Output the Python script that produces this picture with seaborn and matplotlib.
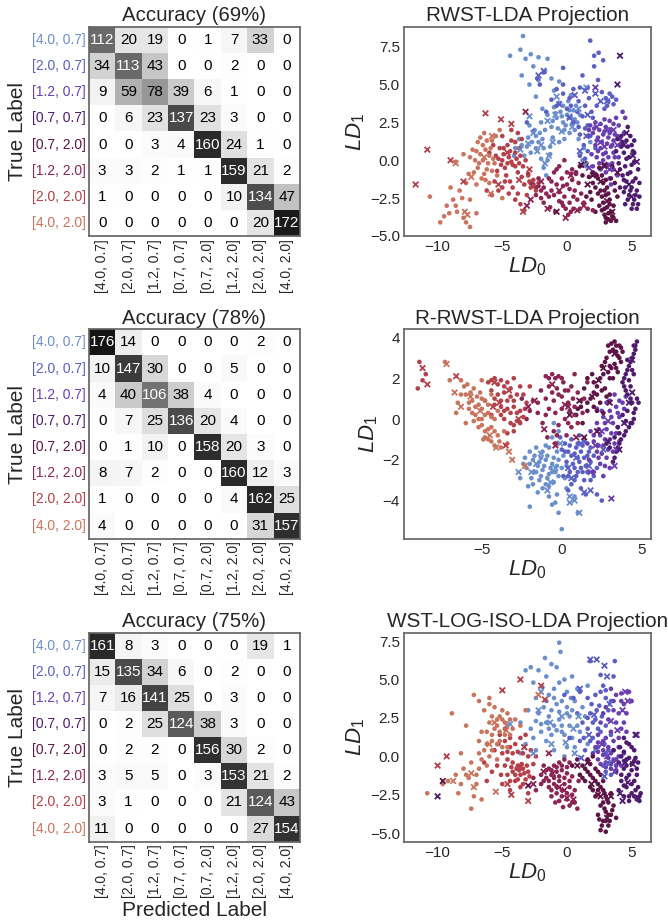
import numpy as np
import pandas as pd
import matplotlib
matplotlib.use("Agg")
import matplotlib.pyplot as plt
import seaborn as sns

# ---------------- data ----------------
labels = ['[4.0, 0.7]', '[2.0, 0.7]', '[1.2, 0.7]', '[0.7, 0.7]',
          '[0.7, 2.0]', '[1.2, 2.0]', '[2.0, 2.0]', '[4.0, 2.0]']
class_colors = ['#6b8fcc', '#5b5fc4', '#6a3eb0', '#4e1b6e',
                '#5e1446', '#8c2454', '#b4404a', '#c9745c']

accuracies = [69, 78, 75]
proj_titles = ['RWST-LDA Projection', 'R-RWST-LDA Projection', 'WST-LOG-ISO-LDA Projection']

cm_rwst = [[112, 20, 19, 0, 1, 7, 33, 0],
           [34, 113, 43, 0, 0, 2, 0, 0],
           [9, 59, 78, 39, 6, 1, 0, 0],
           [0, 6, 23, 137, 23, 3, 0, 0],
           [0, 0, 3, 4, 160, 24, 1, 0],
           [3, 3, 2, 1, 1, 159, 21, 2],
           [1, 0, 0, 0, 0, 10, 134, 47],
           [0, 0, 0, 0, 0, 0, 20, 172]]

cm_rrwst = [[176, 14, 0, 0, 0, 0, 2, 0],
            [10, 147, 30, 0, 0, 5, 0, 0],
            [4, 40, 106, 38, 4, 0, 0, 0],
            [0, 7, 25, 136, 20, 4, 0, 0],
            [0, 1, 10, 0, 158, 20, 3, 0],
            [8, 7, 2, 0, 0, 160, 12, 3],
            [1, 0, 0, 0, 0, 4, 162, 25],
            [4, 0, 0, 0, 0, 0, 31, 157]]

cm_wst = [[161, 8, 3, 0, 0, 0, 19, 1],
          [15, 135, 34, 6, 0, 2, 0, 0],
          [7, 16, 141, 25, 0, 3, 0, 0],
          [0, 2, 25, 124, 38, 3, 0, 0],
          [0, 2, 2, 0, 156, 30, 2, 0],
          [3, 5, 5, 0, 3, 153, 21, 2],
          [3, 1, 0, 0, 0, 21, 124, 43],
          [11, 0, 0, 0, 0, 0, 27, 154]]

# ---- RWST-LDA projection: per class (LD0, LD1) points ----
rwst_dots = [
    [(-3.4, 8.2), (-3.6, 7.3), (-4.4, 6.9), (-3.2, 6.7), (-2.8, 7.0), (-2.2, 6.8), (-1.5, 6.7), (-2.6, 6.2),
     (-3.5, 5.6), (-1.7, 5.9), (-2.2, 5.3), (-1.2, 5.4), (-0.6, 5.2), (-1.0, 3.5), (-0.5, 3.2), (0.0, 3.0),
     (0.3, 2.8), (-0.3, 2.5), (-0.8, 2.8), (0.5, 3.3), (0.8, 2.5), (-1.2, 2.2), (-0.2, 2.0), (0.2, 1.8),
     (-0.6, 3.8), (0.1, 3.9), (-1.5, 3.0), (1.0, 3.0), (0.6, 2.0), (-2.0, 2.5), (-2.5, 2.0), (-3.0, 1.5),
     (-3.5, 1.0), (-4.0, 0.8), (-2.2, 1.2), (-1.8, 0.8), (-1.3, 0.9), (-2.8, 0.5), (-3.3, 0.3), (-1.5, 0.0),
     (-1.8, -0.5), (-1.6, -1.0), (-2.4, 1.6), (1.2, 0.0), (1.5, -0.4), (1.3, 0.8), (1.8, 1.2),
     (-0.9, 3.1), (-0.4, 2.9), (0.2, 3.3), (0.6, 2.7), (-0.1, 2.3), (-0.7, 2.1), (0.4, 2.4), (-1.1, 2.6),
     (-0.3, 3.6), (0.7, 3.6), (-1.7, 2.0), (-2.1, 1.8), (-2.7, 1.2), (-3.1, 0.9), (-2.4, 0.8), (-1.9, 1.4),
     (-1.1, 1.5), (-0.6, 1.2), (-1.3, 0.4), (-2.0, 0.1), (-3.7, 1.4), (-4.1, 0.3), (-2.9, 2.3), (-1.9, 3.4),
     (-2.4, 4.2), (-2.9, 5.0), (-1.0, 4.6), (0.3, 4.3), (-0.2, 1.4), (0.9, 1.4)],
    [(1.8, 7.9), (2.45, 7.1), (2.1, 6.9), (2.8, 6.6), (2.1, 6.2), (0.5, 4.7), (1.0, 4.8), (1.6, 4.8),
     (-0.3, 5.0), (-0.8, 4.7), (-1.8, 5.8), (-2.3, 5.4), (-2.1, 5.0), (3.0, 4.1), (3.2, 3.9), (3.5, 4.2),
     (3.6, 3.7), (3.1, 3.6), (2.7, 4.5), (0.0, 3.4), (0.3, 3.6), (0.8, 3.2), (1.2, 2.9), (1.6, 2.3),
     (1.0, 1.7), (1.3, 1.0), (1.4, 0.1), (1.2, -0.3), (1.6, 0.6), (0.5, 2.5), (-0.8, 3.6), (-1.6, 3.2),
     (-3.1, 2.5), (-2.6, 1.9),
     (0.9, 3.9), (1.4, 3.6), (1.9, 3.2), (0.2, 4.1), (-0.3, 4.4), (1.7, 4.1), (2.3, 3.6), (2.0, 2.8),
     (1.4, 2.1), (0.9, 2.2), (1.8, 1.6), (2.2, 0.8), (1.0, 0.3), (3.3, 4.4), (2.9, 3.4), (3.8, 4.0),
     (-1.2, 4.0), (-0.3, 6.1), (1.2, 5.6), (2.4, 5.3)],
    [(1.8, 2.3), (2.2, 2.5), (2.6, 2.4), (3.0, 2.2), (3.4, 2.0), (2.0, 1.8), (2.4, 1.5), (2.8, 1.7),
     (3.2, 1.5), (3.6, 1.3), (2.2, 1.0), (2.6, 0.8), (3.0, 0.5), (3.4, 0.9), (2.8, 0.0), (3.2, -0.3),
     (3.6, -0.6), (2.5, -0.2), (3.9, -1.0), (3.3, -1.2), (4.0, 0.2), (4.2, 1.0), (4.4, 1.8), (4.0, 2.3),
     (4.5, 2.8), (4.3, 3.2), (3.8, 2.8), (1.6, 1.6), (1.9, 0.4), (2.3, 0.2), (2.0, -0.4), (3.7, 0.2),
     (2.1, 2.1), (2.5, 2.0), (2.9, 1.9), (3.3, 1.8), (3.7, 1.7), (2.3, 1.3), (2.7, 1.2), (3.1, 1.1),
     (3.5, 1.0), (3.9, 1.6), (2.4, 0.6), (2.8, 0.4), (3.2, 0.2), (3.6, 0.5), (2.6, -0.6), (3.0, -0.8),
     (3.5, -0.2), (2.9, 2.7), (3.3, 2.6), (3.6, 2.4), (1.7, 2.0), (4.1, 1.4), (3.4, -1.6), (2.2, -0.9)],
    [(4.2, 1.6), (4.6, 1.3), (5.0, 1.0), (4.4, 0.5), (4.8, 0.2), (5.2, -0.1), (4.5, -0.4), (4.9, -0.8),
     (5.3, -1.2), (4.6, -1.4), (5.0, -1.8), (5.4, -2.0), (4.8, -2.3), (5.2, -2.6), (5.5, -2.9), (5.0, -3.2),
     (4.3, -1.0), (4.0, -0.2), (3.8, 0.6), (4.1, -1.8), (4.4, -2.1), (5.6, -2.4), (4.7, 2.2), (5.2, 0.5),
     (5.5, -0.6), (3.9, 1.4),
     (4.3, 1.2), (4.7, 0.9), (5.1, 0.6), (4.6, 0.1), (5.0, -0.3), (4.7, -0.9), (5.1, -1.4), (4.5, -1.8),
     (4.9, -2.0), (5.3, -2.3), (4.7, -2.6), (5.1, -2.9), (5.4, -3.2), (4.4, -1.3), (4.2, 0.9), (4.9, 1.6),
     (5.2, 1.3), (5.6, -1.5), (4.1, -0.6), (4.5, -2.9)],
    [(2.0, -0.8), (2.4, -1.2), (2.8, -1.5), (3.1, -1.8), (2.6, -2.0), (3.0, -2.3), (3.3, -2.6), (2.8, -2.8),
     (3.1, -3.1), (3.4, -3.4), (2.9, -3.6), (3.2, -3.9), (3.6, -3.8), (3.8, -4.0), (3.4, -1.2), (3.7, -2.0),
     (2.2, -1.8), (1.8, -2.1), (1.5, -2.4), (3.6, -3.0), (2.5, -0.5), (1.5, -0.2), (1.0, -0.4), (1.2, -1.0),
     (0.7, -0.8), (2.7, -3.3), (3.0, -4.1), (3.5, -0.4),
     (2.3, -1.0), (2.7, -1.0), (3.0, -1.3), (2.9, -2.0), (3.2, -2.2), (2.7, -2.4), (3.3, -2.9), (2.9, -3.2),
     (3.2, -3.5), (3.5, -3.7), (3.0, -3.8), (3.4, -4.0), (2.4, -2.2), (2.0, -1.5), (1.7, -1.1), (1.9, -2.6),
     (3.7, -1.5), (3.9, -2.4), (2.5, -3.0), (2.2, -3.4)],
    [(-2.8, -1.5), (-2.4, -1.8), (-2.0, -2.0), (-1.6, -2.2), (-1.2, -2.0), (-0.8, -1.6), (-0.4, -1.2), (0.0, -0.8),
     (0.4, -0.6), (-0.6, -0.4), (-1.0, -0.8), (-0.2, -2.4), (0.2, -2.8), (0.5, -3.2), (-0.3, -3.0), (-0.6, -2.7),
     (0.1, -3.6), (0.6, -2.0), (0.9, -1.5), (1.3, -2.8), (1.0, -3.2), (-1.8, -2.8), (-1.3, -3.1), (-2.2, -1.2),
     (-3.0, -0.9), (-1.4, -1.2), (0.0, -1.6), (0.4, -1.3), (-0.9, -3.4), (1.6, -3.2), (2.0, -3.3), (-0.2, 0.0),
     (-2.6, -1.6), (-2.2, -1.7), (-1.8, -1.8), (-1.4, -2.4), (-1.0, -2.3), (-0.6, -2.1), (-0.3, -1.7), (0.2, -1.9),
     (0.5, -2.4), (0.3, -0.9), (-0.8, -0.6), (-1.2, -1.4), (-0.4, -2.8), (0.8, -2.6), (1.1, -2.2), (-2.0, -2.5),
     (-2.4, -2.3), (0.3, -3.4), (-0.1, -3.2), (0.7, -0.9)],
    [(-5.5, 0.3), (-5.0, 0.0), (-4.5, 0.2), (-4.0, 0.5), (-3.6, 0.3), (-4.8, -0.5), (-4.2, -0.3), (-3.8, -0.8),
     (-5.2, 0.8), (-4.6, 1.0), (-4.0, 1.2), (-3.4, -0.4), (-3.0, -1.0), (-2.6, -1.3), (-2.2, -1.5), (-2.8, -1.8),
     (-3.3, -1.6), (-5.6, -1.4), (-5.0, -1.8), (-4.5, -2.2), (-4.0, -2.6), (-3.6, -2.9), (-3.3, -3.3), (-5.8, -2.3),
     (-6.2, -2.0), (-4.3, 2.0), (-5.0, 1.6), (-3.8, 1.8), (-6.0, 0.5), (-3.5, 1.4), (-4.4, -1.4), (-2.4, -2.0),
     (-5.3, 0.1), (-4.9, 0.4), (-4.3, -0.1), (-3.9, 0.1), (-4.6, -0.2), (-5.1, -0.3), (-4.0, -0.4), (-3.7, -0.2),
     (-4.4, 0.6), (-4.9, 0.8), (-3.7, 0.8), (-4.3, 1.3), (-5.4, -0.7), (-4.7, -1.0), (-3.5, -1.1), (-2.9, -1.4),
     (-4.8, -1.4), (-4.2, -1.8), (-3.8, -2.2), (-5.3, -2.0), (-3.1, -2.3), (-2.6, -1.7), (-3.2, 0.0), (-5.7, 1.0)],
    [(-7.0, 0.6), (-6.5, 1.0), (-6.0, 0.3), (-6.8, -0.2), (-6.2, -0.6), (-5.6, -0.2), (-7.2, -0.8), (-6.6, -1.2),
     (-6.0, -1.5), (-5.4, -1.0), (-7.5, 0.2), (-8.0, 0.4), (-6.4, 1.8), (-5.8, 1.3), (-5.2, 2.0), (-6.9, 1.2),
     (-7.8, -1.5), (-8.3, -2.0), (-8.8, -2.6), (-9.3, -3.0), (-9.8, -4.1), (-9.5, -3.7), (-8.5, -3.4), (-8.0, -3.8),
     (-7.5, -4.4), (-7.0, -3.5), (-7.5, -2.6), (-9.0, -1.8), (-10.6, -2.4), (-8.6, -0.1), (-5.0, -2.5),
     (-6.7, 0.4), (-6.3, 0.7), (-5.9, 0.8), (-6.5, 0.0), (-6.1, -0.2), (-5.7, 0.1), (-7.1, 0.0), (-6.9, -0.5),
     (-6.4, -0.9), (-5.8, -0.7), (-7.3, 0.7), (-6.2, 1.3), (-6.7, 1.5), (-5.5, 1.6), (-7.6, -0.9), (-6.3, -1.3),
     (-7.0, -1.6), (-8.6, -3.0), (-8.1, -2.5), (-9.1, -3.5), (-7.8, -4.1)],
]
rwst_cross = [
    [(-3.6, 0.7), (-2.0, 1.0), (-1.5, 2.6), (1.4, -0.3), (-2.6, 1.8), (1.5, 4.8), (-0.9, 3.0), (0.4, 2.2),
     (-2.3, 0.6), (-1.1, 1.2), (-0.4, 1.9), (0.2, 2.9), (-3.0, 1.1), (-1.7, -0.2), (-2.9, 2.9), (-0.8, 4.2),
     (0.9, 3.4), (-1.4, 0.3)],
    [(-1.8, 5.9), (0.6, 4.3), (1.4, 4.6), (3.1, 3.9), (-0.6, 3.7), (2.2, 4.4), (1.0, 0.6),
     (0.2, 2.8), (1.6, 3.0), (2.6, 3.9), (1.5, 1.6), (-2.2, 5.6)],
    [(2.6, 1.2), (3.1, 2.0), (1.7, -0.5), (2.2, 4.8), (3.9, 1.0), (2.3, 2.2), (3.6, 2.0), (2.9, 0.9),
     (3.3, -0.6)],
    [(5.1, 0.3), (5.4, -0.1), (4.6, 1.8), (4.1, 6.9), (3.9, 5.0), (2.9, -0.4), (4.8, -1.6), (5.0, -2.4),
     (4.4, 1.0)],
    [(2.9, -0.3), (1.1, -0.3), (2.0, -1.0), (3.9, -0.8), (3.5, -3.4), (-0.8, -3.4), (2.6, -1.4), (3.1, -2.7),
     (1.6, -1.6)],
    [(-1.5, -3.2), (-0.1, -3.8), (0.8, -3.3), (-3.2, 3.2), (-2.8, -2.6), (-3.1, -3.0), (-2.0, -1.4),
     (-0.6, -2.0), (0.3, -1.0), (1.3, -3.0)],
    [(-6.3, 3.1), (-5.1, 2.7), (-4.3, 2.4), (-3.4, -3.4), (-8.0, -1.4), (-10.8, 0.7), (-11.7, -1.6), (-9.0, 0.0),
     (-4.6, 0.5), (-3.7, -1.3), (-5.3, -1.6), (-2.9, -0.6)],
    [(-7.9, -3.4), (-7.7, -3.6), (-5.9, -2.2), (-8.6, -0.2), (-6.4, 0.2), (-7.4, -1.1), (-5.8, 1.6)],
]

# ---- R-RWST-LDA projection ----
rrwst_dots = [
    [(-2.0, -1.6), (-1.6, -1.4), (-1.2, -1.6), (-0.8, -1.4), (-0.4, -1.2), (-0.2, -0.6), (-0.5, -0.2), (-1.8, -2.0),
     (-1.4, -2.1), (-1.0, -2.0), (-0.6, -2.2), (-0.2, -2.0), (0.1, -1.8), (-2.2, -2.4), (-1.6, -2.6), (-1.2, -2.5),
     (-0.8, -2.7), (-0.4, -2.6), (0.0, -2.4), (-1.9, -2.9), (-1.4, -3.0), (-1.0, -3.2), (-0.5, -3.1), (0.2, -2.9),
     (-2.4, -2.2), (-2.1, -3.3), (-1.5, -3.6), (-0.3, -3.7), (0.3, -3.4), (-0.8, -3.8), (-2.0, -4.3), (-0.6, -4.2),
     (-0.2, -4.6), (0.0, -5.4), (0.8, -3.8), (1.0, -4.6), (-0.4, -4.1), (-2.6, -2.9),
     (-1.7, -1.8), (-1.3, -1.9), (-0.9, -1.8), (-0.5, -1.9), (-1.5, -2.3), (-1.1, -2.3), (-0.7, -2.4), (-0.3, -2.3),
     (-1.7, -2.6), (-1.3, -2.8), (-0.9, -2.9), (-0.6, -2.6), (-0.2, -2.8), (-1.2, -3.4), (-0.8, -3.3), (-2.0, -2.2),
     (-1.0, -1.3), (-0.6, -0.9), (-0.3, -1.6), (-2.3, -1.9), (-1.8, -3.2), (0.3, -2.3)],
    [(0.2, -1.2), (0.6, -1.0), (1.0, -1.2), (1.4, -1.1), (1.8, -1.4), (0.4, -1.6), (0.8, -1.7), (1.2, -1.6),
     (1.6, -1.8), (2.0, -1.8), (0.3, -2.1), (0.7, -2.2), (1.1, -2.1), (1.5, -2.3), (0.5, -2.6), (0.9, -2.8),
     (1.3, -2.6), (0.1, -2.8), (0.6, -3.2), (1.2, -3.4), (1.8, -3.0), (2.2, -2.4), (-0.1, -0.9), (0.0, -1.5),
     (2.5, -4.0), (2.2, -3.7), (1.5, -3.7), (0.4, -3.5),
     (0.5, -1.3), (0.9, -1.4), (1.3, -1.3), (1.7, -1.6), (0.6, -1.8), (1.0, -1.9), (1.4, -1.9), (1.8, -2.1),
     (0.8, -2.4), (1.2, -2.4), (1.6, -2.6), (0.4, -2.8), (1.0, -2.6), (0.8, -3.0), (1.4, -3.0), (2.0, -2.8),
     (0.2, -1.6), (1.1, -0.8)],
    [(1.8, -0.6), (2.2, -0.2), (2.6, 0.1), (3.0, 0.4), (3.4, 0.6), (2.0, -1.1), (2.4, -0.8), (2.8, -0.5),
     (3.2, -0.2), (3.6, 0.1), (2.2, -1.6), (2.6, -1.3), (3.0, -1.0), (3.4, -0.7), (2.4, -2.2), (2.8, -1.9),
     (3.2, -1.6), (2.0, -2.6), (2.6, -2.8), (3.0, -2.4), (1.7, -2.0), (3.8, 0.8), (4.0, 1.1), (3.3, 1.2),
     (2.8, 0.8), (1.6, -1.2), (3.6, -1.1), (2.2, 0.5),
     (2.0, -0.8), (2.3, -0.5), (2.7, -0.2), (3.1, 0.1), (3.5, 0.3), (2.3, -1.3), (2.7, -1.0), (3.1, -0.7),
     (3.5, -0.4), (2.5, -1.7), (2.9, -1.5), (3.3, -1.2), (2.7, -2.3), (2.3, -1.9), (3.0, 0.9), (3.6, 0.9),
     (3.9, 0.5), (2.5, 0.4)],
    [(3.2, -2.1), (3.4, -1.6), (3.6, -1.2), (3.9, -0.8), (4.2, -0.4), (4.5, 0.0), (4.6, 0.5), (4.3, 1.0),
     (4.0, 1.4), (3.8, 1.8), (4.0, 2.2), (4.2, 2.6), (4.4, 3.0), (4.6, 3.4), (4.7, 3.8), (4.5, 3.6),
     (3.9, 2.0), (4.3, 1.6), (3.0, -1.4), (3.5, -0.4), (3.8, 0.2), (4.1, 0.4), (2.8, -1.2), (4.8, 0.8),
     (4.4, -0.2), (3.3, -0.9), (4.1, 2.9), (4.5, 2.2),
     (3.3, -1.9), (3.5, -1.4), (3.7, -1.0), (4.0, -0.6), (4.3, -0.2), (4.5, 0.3), (4.4, 0.8), (4.1, 1.2),
     (3.9, 1.6), (4.1, 2.4), (4.3, 2.8), (4.5, 3.2), (4.6, 3.6), (4.2, 1.9), (4.0, -0.1), (3.6, -0.7),
     (4.7, 1.0), (4.4, 2.4)],
    [(3.3, 3.8), (3.6, 3.6), (3.8, 3.3), (3.5, 3.1), (3.2, 3.4), (2.9, 3.6), (2.8, 3.0), (3.3, 2.7),
     (3.7, 2.8), (2.5, 2.6), (2.9, 2.3), (3.2, 2.0), (2.4, 2.0), (2.0, 1.8), (2.7, 1.5), (3.0, 1.2),
     (2.2, 1.2), (1.8, 1.0), (1.4, 1.5), (1.2, 0.6), (1.6, 0.4), (2.0, 0.6), (2.4, 0.8), (0.9, 0.2),
     (1.3, -0.2), (2.6, 0.3), (3.1, 2.5), (3.5, 2.3), (1.9, 2.2), (1.6, 2.0),
     (3.4, 3.6), (3.7, 3.5), (3.0, 3.3), (3.4, 3.3), (2.7, 2.8), (3.0, 2.6), (3.4, 2.5), (2.6, 2.2),
     (3.0, 2.0), (2.2, 1.6), (2.5, 1.4), (2.8, 1.1), (2.0, 1.3), (1.6, 0.8), (2.2, 0.4), (1.0, 0.5),
     (3.6, 3.0), (3.1, 3.7)],
    [(-1.0, 2.1), (-0.6, 2.2), (-0.2, 2.1), (0.1, 1.8), (-0.3, 1.5), (-0.8, 1.6), (-1.3, 1.4), (-1.0, 1.0),
     (-0.5, 0.9), (0.0, 1.1), (0.4, 1.4), (0.7, 1.0), (1.0, 1.3), (0.5, 0.4), (0.2, 0.0), (-0.2, -0.3),
     (-0.5, -0.6), (0.6, -0.4), (1.0, -0.2), (1.3, 0.3), (-1.8, 0.9), (-2.0, 0.4), (-1.5, 0.3), (-1.2, -0.2),
     (-0.9, -0.9), (-0.4, -1.2), (0.3, -0.8), (1.6, 1.8), (0.8, 2.2), (1.2, 0.9), (-2.5, 1.0), (-2.2, 0.0),
     (-0.8, 2.0), (-0.4, 2.0), (0.0, 2.0), (-0.6, 1.3), (-0.2, 1.2), (0.2, 1.4), (0.6, 1.6), (0.4, 0.8),
     (0.8, 0.6), (0.0, 0.5), (-0.4, 0.3), (-0.8, 0.5), (-1.5, 0.8), (-1.0, 0.2), (0.4, -0.2), (0.8, 0.2),
     (1.4, 1.0), (-0.3, -0.8)],
    [(-4.6, 1.8), (-4.2, 2.0), (-3.8, 1.9), (-3.4, 1.8), (-3.0, 2.0), (-4.4, 1.4), (-4.0, 1.2), (-3.6, 1.3),
     (-3.2, 1.1), (-2.8, 1.2), (-4.2, 0.7), (-3.8, 0.6), (-3.4, 0.5), (-3.0, 0.6), (-2.6, 0.4), (-3.6, 0.0),
     (-3.2, -0.2), (-2.8, -0.1), (-2.4, 0.1), (-3.0, -0.6), (-3.4, -0.7), (-4.4, 0.2), (-2.6, 1.6), (-2.2, 0.8),
     (-2.0, 1.6), (-8.9, 2.8), (-8.7, 1.9), (-9.0, 1.5), (-8.5, 2.2), (-4.8, 0.9),
     (-4.4, 1.9), (-4.0, 1.7), (-3.6, 1.6), (-3.2, 1.5), (-4.2, 1.0), (-3.8, 0.9), (-3.4, 0.9), (-3.0, 0.9),
     (-2.8, 0.3), (-3.2, 0.3), (-3.6, 0.4), (-3.0, -0.3), (-2.6, -0.2), (-3.8, 0.2), (-2.4, 1.2), (-2.3, 0.5)],
    [(-6.3, 1.9), (-5.9, 1.7), (-5.5, 1.5), (-5.1, 1.3), (-6.0, 1.2), (-5.6, 0.9), (-5.2, 0.7), (-4.8, 0.9),
     (-5.8, 0.5), (-5.4, 0.2), (-5.0, 0.0), (-4.6, 0.3), (-4.2, 0.0), (-5.2, -0.4), (-4.8, -0.6), (-4.4, -0.4),
     (-4.0, -0.8), (-3.6, -0.6), (-4.6, -1.0), (-4.2, -1.3), (-3.8, -1.4), (-3.4, -1.2), (-6.5, 0.8), (-6.0, -0.2),
     (-4.0, 0.4), (-5.0, 1.9), (-4.4, 1.2), (-7.3, 2.8), (-7.0, 1.9), (-6.6, 0.3), (-4.9, -1.0),
     (-6.1, 1.6), (-5.7, 1.3), (-5.3, 1.1), (-5.8, 0.8), (-5.4, 0.6), (-5.0, 0.5), (-5.6, 0.3), (-5.2, 0.0),
     (-4.8, 0.2), (-4.4, 0.1), (-5.0, -0.3), (-4.6, -0.5), (-4.2, -0.6), (-4.8, -0.9), (-4.4, -1.1), (-3.9, -1.1),
     (-5.5, -0.1), (-6.3, 1.2), (-5.0, 1.0), (-4.6, 0.7)],
]
rrwst_cross = [
    [(-2.7, -2.6), (0.5, -4.1), (0.8, -4.0), (1.1, -4.6), (-1.6, -2.2), (-0.7, -3.1), (0.5, -3.8),
     (-1.3, -1.7), (-0.4, -2.4), (-1.9, -2.6), (-0.9, -3.5), (-0.1, -1.2)],
    [(0.4, -2.4), (1.4, -3.6), (1.8, -3.5), (0.9, -1.9), (2.6, -1.5), (1.2, -1.2), (0.6, -2.9), (1.7, -2.3)],
    [(2.5, -0.6), (3.3, -2.3), (1.8, -2.6), (3.1, -3.9), (2.9, -0.1), (3.4, -1.5), (2.1, -1.3)],
    [(3.9, -0.2), (2.9, -1.1), (4.4, 1.3), (4.2, 0.8), (3.6, -1.5), (4.4, 2.9)],
    [(2.3, 1.9), (1.9, 1.1), (3.0, 0.8), (2.2, -0.6), (0.5, 0.2), (1.4, -0.9), (3.3, 3.2), (2.6, 2.5),
     (1.1, 0.9)],
    [(-1.7, 0.9), (-2.1, 0.6), (-0.4, -1.3), (0.9, -0.9), (0.4, 0.6), (-0.6, 1.7), (0.2, 0.7), (-1.1, -0.5)],
    [(-8.7, 2.5), (-8.4, 1.7), (-6.6, 2.1), (-4.3, 0.6), (-3.5, -1.3), (-4.2, 1.8), (-3.3, 1.4), (-2.7, 0.0),
     (-3.9, 0.8)],
    [(-7.2, 2.7), (-6.7, 1.3), (-6.3, 0.6), (-3.3, -1.6), (-3.1, -2.0), (-2.3, -2.3), (-5.1, 0.4),
     (-4.5, -0.8), (-5.7, 1.1), (-4.1, -1.4)],
]

# ---- WST-LOG-ISO-LDA projection ----
wst_dots = [
    [(-0.6, 7.4), (-0.5, 6.8), (-1.7, 6.4), (-1.2, 6.0), (-2.8, 5.8), (-2.2, 5.6), (-0.8, 5.8), (-1.6, 5.2),
     (-0.2, 5.0), (0.4, 5.2), (-3.2, 5.6), (-2.6, 4.8), (-1.9, 4.5), (-1.0, 4.4), (0.0, 4.2), (0.8, 4.4),
     (1.6, 4.6), (-2.4, 3.8), (-1.6, 3.6), (-0.8, 3.4), (0.0, 3.2), (0.6, 3.6), (1.2, 3.2), (-3.0, 3.0),
     (-2.2, 2.8), (-1.4, 2.6), (-0.6, 2.4), (0.2, 2.6), (0.8, 2.0), (-3.6, 2.2), (-2.8, 1.8), (-2.0, 1.6),
     (-1.2, 1.4), (-0.4, 1.6), (0.4, 1.2), (-3.2, 0.8), (-2.4, 0.4), (-1.0, 0.4), (-0.2, 0.0), (0.6, 0.6),
     (1.6, 0.8), (2.2, 0.4), (-3.6, 0.2),
     (-1.8, 3.2), (-1.2, 3.0), (-0.6, 2.9), (0.0, 2.8), (0.4, 3.0), (-1.6, 2.2), (-1.0, 2.0), (-0.4, 2.0),
     (0.2, 2.0), (-1.4, 1.8), (-0.8, 1.7), (-0.2, 1.4), (-2.4, 2.3), (-2.0, 2.1), (-1.0, 3.8), (-0.4, 3.6),
     (0.3, 3.8), (-2.6, 1.2), (-1.6, 1.0), (0.0, 0.6), (1.0, 1.6), (1.4, 2.6), (-1.4, 4.0), (-0.6, 4.8)],
    [(1.8, 6.2), (3.7, 6.2), (2.6, 5.3), (3.6, 5.2), (2.8, 4.6), (2.2, 4.0), (3.0, 3.8), (3.4, 3.6),
     (1.6, 3.8), (2.5, 3.3), (1.8, 2.8), (2.2, 2.4), (1.2, 2.2), (0.8, 2.8), (1.6, 1.8), (2.0, 1.2),
     (2.6, 1.6), (3.0, 2.0), (1.0, 1.0), (1.4, 0.4), (2.4, 0.6), (0.5, 3.8), (1.0, 4.2), (-0.2, 4.0),
     (3.2, 0.4), (3.6, -0.2), (2.8, -0.6), (3.4, -1.2), (3.0, -1.0), (0.2, 1.2),
     (1.9, 3.4), (2.3, 3.0), (2.0, 2.2), (1.6, 2.5), (2.4, 1.8), (1.8, 1.0), (2.7, 2.6), (3.2, 3.0),
     (2.6, 4.2), (3.0, 4.3), (1.3, 1.2), (2.9, 0.8), (3.3, -0.4), (3.0, 0.2), (3.8, -0.6), (3.4, 1.4)],
    [(3.4, 4.4), (3.8, 4.0), (4.2, 3.6), (3.0, 3.2), (3.6, 3.0), (4.4, 3.4), (4.6, 2.8), (2.6, 2.2),
     (3.2, 2.4), (3.8, 2.2), (4.2, 1.8), (4.6, 1.6), (2.4, 1.4), (3.0, 1.2), (3.6, 1.0), (4.0, 0.6),
     (4.4, 0.2), (2.2, 0.6), (2.8, 0.4), (3.4, 0.2), (3.8, -0.2), (2.4, -0.2), (3.0, -0.4), (3.4, -0.8),
     (3.8, -0.9), (4.2, -0.6), (2.0, 0.2), (5.0, 3.6), (4.8, 4.2), (2.8, 2.8),
     (2.4, 0.3), (2.8, 0.1), (3.2, -0.1), (3.6, -0.3), (4.0, 0.0), (2.6, -0.5), (3.0, -0.7), (3.4, -0.5),
     (3.8, -0.6), (3.2, 0.6), (3.6, 0.4), (2.8, 1.0), (3.4, 1.6), (4.0, 1.2), (4.4, 2.2), (4.0, 2.8),
     (3.6, 3.6), (4.2, 4.1), (2.4, 0.9), (4.4, -0.3)],
    [(4.4, 1.2), (4.8, 0.8), (5.2, 0.4), (4.2, 0.0), (4.6, -0.2), (5.0, -0.5), (5.4, -0.8), (4.4, -0.8),
     (4.8, -1.2), (5.2, -1.6), (5.5, -2.0), (4.2, -1.6), (4.6, -2.0), (5.0, -2.4), (5.4, -2.8), (5.7, -2.4),
     (3.8, -1.0), (4.0, -2.2), (4.4, -2.6), (4.8, -2.9), (5.6, -2.9), (3.6, 0.4), (5.3, -0.1), (4.0, -0.4),
     (4.6, 0.9), (5.0, 0.6), (4.4, 0.3), (4.8, -0.1), (5.2, -0.3), (4.6, -0.6), (5.0, -0.9), (5.4, -1.2),
     (4.6, -1.4), (5.0, -1.8), (5.3, -2.2), (4.8, -2.6), (5.2, -2.6), (5.6, -2.6), (4.2, -1.2), (4.4, -1.9),
     (4.1, 0.6), (5.5, -0.4)],
    [(0.8, -0.2), (1.2, -0.6), (1.6, -1.0), (2.0, -1.4), (2.4, -1.8), (2.8, -2.2), (3.0, -2.6), (3.2, -3.0),
     (2.6, -3.2), (3.0, -3.6), (3.4, -3.8), (2.8, -4.2), (3.2, -4.5), (2.6, -4.8), (3.0, -4.9), (2.2, -2.6),
     (1.8, -2.0), (1.4, -1.6), (1.0, -1.2), (2.2, -0.8), (2.6, -1.2), (3.4, -2.4), (3.6, -3.2), (2.4, -3.8),
     (1.6, -0.2), (0.4, -0.6), (2.0, 0.0), (3.8, -4.0),
     (1.4, -0.8), (1.8, -1.2), (2.2, -1.6), (2.6, -2.0), (2.9, -2.4), (3.1, -2.8), (2.8, -3.0), (2.9, -3.4),
     (3.2, -3.8), (3.0, -4.2), (2.7, -4.5), (3.3, -4.2), (2.4, -2.2), (2.0, -2.2), (1.2, -1.4), (2.4, -1.0),
     (1.8, -0.5), (2.8, -1.6), (3.5, -3.5), (2.5, -4.1)],
    [(-1.8, -0.6), (-1.4, -0.8), (-1.0, -0.6), (-0.6, -0.4), (-0.2, -0.2), (0.2, -0.4), (-2.0, -1.2), (-1.6, -1.4),
     (-1.2, -1.2), (-0.8, -1.0), (-0.4, -0.9), (0.0, -1.1), (0.4, -1.3), (-1.4, -2.0), (-1.0, -1.8), (-0.6, -1.6),
     (-0.2, -1.8), (0.2, -2.0), (-0.8, -2.4), (-0.4, -2.6), (0.0, -2.8), (0.4, -3.0), (0.8, -3.4), (-1.2, -2.6),
     (-2.4, -2.2), (-2.6, -1.4), (-0.9, -3.0), (0.6, -2.2), (-0.3, -3.3), (0.9, -1.6),
     (-1.6, -0.9), (-1.2, -0.9), (-0.8, -0.7), (-0.4, -0.6), (0.0, -0.7), (-1.8, -1.6), (-1.4, -1.6), (-1.0, -1.4),
     (-0.6, -1.3), (-0.2, -1.4), (0.2, -1.6), (-1.2, -2.2), (-0.8, -2.0), (-0.4, -2.2), (0.0, -2.4), (0.4, -2.5),
     (-0.6, -2.9), (0.2, -3.2), (0.6, -3.0), (-2.0, -1.8)],
    [(-5.2, 1.4), (-4.8, 1.0), (-4.4, 0.6), (-4.0, 0.8), (-3.6, 1.2), (-3.2, 1.4), (-5.0, 0.2), (-4.6, -0.2),
     (-4.2, -0.4), (-3.8, -0.6), (-3.4, -0.8), (-3.0, -1.0), (-4.2, -1.0), (-3.6, -1.2), (-3.2, -1.5), (-4.6, -1.2),
     (-5.4, -0.6), (-5.8, -1.0), (-6.2, -1.6), (-5.0, -1.8), (-4.4, -2.2), (-3.6, -2.0), (-3.0, -2.4), (-3.4, 0.2),
     (-2.8, 0.4), (-2.4, 0.0), (-6.4, -0.4), (-5.6, 0.4), (-4.8, 1.8), (-4.0, -1.6),
     (-4.3, -0.7), (-3.9, -0.8), (-3.5, -0.5), (-3.1, -0.6), (-4.0, -1.2), (-3.7, -0.9), (-3.3, -1.1), (-2.9, -1.3),
     (-3.8, -1.5), (-3.4, -1.8), (-4.4, -1.6), (-4.8, -0.6), (-5.1, -1.2), (-4.6, 0.3), (-4.2, 0.2), (-3.8, 0.3),
     (-5.3, 0.8), (-4.4, 1.2), (-3.0, 0.0), (-2.6, -0.5)],
    [(-7.2, 4.0), (-6.8, 3.6), (-6.0, 3.8), (-5.6, 3.2), (-6.4, 3.0), (-5.2, 2.6), (-4.6, 2.8), (-4.0, 2.4),
     (-6.0, 2.2), (-5.4, 2.0), (-4.8, 2.2), (-4.2, 1.8), (-3.6, 2.0), (-6.6, 1.6), (-5.8, 1.4), (-5.2, 1.0),
     (-4.6, 0.6), (-6.2, 0.8), (-6.8, 0.2), (-6.0, 0.0), (-5.4, -0.2), (-7.4, -0.4), (-6.8, -0.8), (-8.0, -0.8),
     (-8.6, -1.2), (-9.2, -1.6), (-8.2, -1.8), (-7.6, -1.4), (-9.6, -1.8), (-10.8, -2.4), (-7.2, -2.6), (-6.6, -2.8),
     (-8.4, -2.4), (-7.4, -3.4), (-8.9, 2.8), (-7.8, 2.0), (-8.2, 0.2), (-7.0, -1.8), (-3.2, 3.0),
     (-5.8, 2.6), (-5.4, 2.4), (-5.0, 2.4), (-4.6, 2.0), (-5.6, 1.8), (-5.2, 1.6), (-4.8, 1.4), (-4.4, 1.4),
     (-6.2, 1.6), (-5.8, 1.0), (-5.4, 0.8), (-5.0, 0.6), (-6.4, 0.4), (-5.8, 0.4), (-6.6, -0.2), (-6.2, -0.6),
     (-7.0, -1.2), (-7.8, -1.2), (-6.0, 3.4), (-5.0, 3.0), (-4.4, 2.4), (-6.8, 1.0)],
]
wst_cross = [
    [(-4.4, 2.1), (-3.3, 0.6), (-2.6, 0.2), (-1.2, 0.8), (-0.1, 0.9), (0.6, 0.2), (-2.2, 3.0), (-1.3, 2.2),
     (-0.4, 2.6), (0.5, 1.8), (-2.0, 4.2), (0.9, 2.6)],
    [(1.8, 6.3), (2.3, 6.3), (2.9, 5.9), (3.1, 5.2), (1.0, 4.4), (3.2, -0.5), (2.9, -1.3), (1.1, -0.1),
     (2.1, 2.7), (1.7, 1.4), (3.3, 3.4)],
    [(4.5, 4.2), (4.7, 3.6), (5.4, 1.4), (3.4, 2.3), (2.7, 0.8), (3.7, -1.0), (3.1, 0.0), (3.9, 1.7),
     (4.3, 3.0)],
    [(5.3, 1.4), (5.5, -2.7), (4.5, -0.4), (4.1, -2.4), (-10.0, -2.6), (4.7, -1.7), (5.1, -0.5), (4.3, -2.9)],
    [(1.6, -0.4), (0.8, -0.6), (2.4, -2.5), (3.4, -2.6), (-3.0, -1.9), (-9.6, -1.6), (2.6, -2.6), (1.9, -1.8),
     (3.1, -4.0)],
    [(-2.6, -1.8), (-1.8, -1.0), (-0.6, -2.0), (0.0, -2.7), (-1.4, 0.2), (-1.1, -1.1), (-0.2, -2.2),
     (0.5, -2.8)],
    [(-5.0, 4.3), (-3.6, 5.0), (-2.0, 4.6), (-1.7, 3.7), (-10.0, -0.6), (-9.3, 0.0), (-4.3, -2.5), (-3.0, -2.9),
     (-3.6, -0.7), (-4.6, -1.8), (-3.3, 0.6)],
    [(-7.4, -1.1), (-8.8, -1.6), (-5.5, -2.3), (-2.2, 4.0), (-5.6, 2.2), (-6.0, 0.8), (-4.7, 1.7), (-7.2, -2.0)],
]

# ---------------- style ----------------
sns.set_style("white")
plt.rcParams['font.family'] = ['Liberation Sans', 'DejaVu Sans']
plt.rcParams['mathtext.fontset'] = 'custom'
plt.rcParams['mathtext.it'] = 'Liberation Sans:italic'
plt.rcParams['mathtext.rm'] = 'Liberation Sans'
plt.rcParams['axes.unicode_minus'] = True

palette = class_colors
text_col = '0.15'
frame_col = '0.4'

fig = plt.figure(figsize=(6.68, 9.24), dpi=100)

rows = [(0.9708, 0.7446), (0.6436, 0.4170), (0.3153, 0.0891)]
cms = [cm_rwst, cm_rrwst, cm_wst]
dots_all = [rwst_dots, rrwst_dots, wst_dots]
cross_all = [rwst_cross, rrwst_cross, wst_cross]
lims = [((-12.6, 6.5), (-5.0, 8.8), [-10, -5, 0, 5], [-5.0, -2.5, 0.0, 2.5, 5.0, 7.5]),
        ((-9.86, 5.58), (-5.87, 4.4), [-5, 0, 5], [-4, -2, 0, 2, 4]),
        ((-12.6, 6.5), (-5.55, 8.05), [-10, -5, 0, 5], [-5.0, -2.5, 0.0, 2.5, 5.0, 7.5])]


def to_frame(groups):
    recs = []
    for lab, pts in zip(labels, groups):
        for (x, y) in pts:
            recs.append((x, y, lab))
    return pd.DataFrame(recs, columns=['x', 'y', 'cls'])


for i, (top, bot) in enumerate(rows):
    # ---- confusion matrix ----
    axc = fig.add_axes([0.1332, bot, 0.3159, top - bot])
    cm = np.array(cms[i])
    total = cm.sum(axis=1).max()
    sns.heatmap(cm, ax=axc, annot=True, fmt='d', cmap='gray_r', vmin=0, vmax=total,
                cbar=False, xticklabels=labels, yticklabels=labels,
                annot_kws={'size': 11})
    thr = total / 2.0
    for t in axc.texts:
        t.set_color('white' if int(t.get_text()) > thr else 'black')
    for sp in axc.spines.values():
        sp.set_visible(True)
        sp.set_color(frame_col)
        sp.set_linewidth(1.25)
    axc.tick_params(axis='both', length=0, pad=2)
    axc.set_yticklabels(labels, rotation=0, fontsize=10)
    axc.set_xticklabels(labels, rotation=90, fontsize=10, color=text_col)
    for lbl, c in zip(axc.get_yticklabels(), palette):
        lbl.set_color(c)
    axc.set_title(f'Accuracy ({accuracies[i]}%)', fontsize=14.7, color=text_col, pad=4)
    axc.set_ylabel('True Label', fontsize=15, color=text_col, labelpad=4)
    if i == 2:
        axc.set_xlabel('Predicted Label', fontsize=15, color=text_col, labelpad=2)

    # ---- projection scatter ----
    axs = fig.add_axes([0.6048, bot, 0.3698, top - bot])
    dd = to_frame(dots_all[i])
    dc = to_frame(cross_all[i])
    sns.scatterplot(data=dd, x='x', y='y', hue='cls', hue_order=labels, palette=palette,
                    s=11, linewidth=0, legend=False, ax=axs)
    sns.scatterplot(data=dc, x='x', y='y', hue='cls', hue_order=labels, palette=palette,
                    marker='x', s=16, linewidth=1.3, legend=False, ax=axs)
    xl, yl, xt, yt = lims[i]
    axs.set_xlim(*xl)
    axs.set_ylim(*yl)
    axs.set_xticks(xt)
    axs.set_yticks(yt)
    axs.tick_params(axis='both', length=0, labelsize=11, labelcolor=text_col, pad=3)
    for sp in axs.spines.values():
        sp.set_color(frame_col)
        sp.set_linewidth(1.25)
    axs.set_title(proj_titles[i], fontsize=14.9, color=text_col, pad=4)
    axs.set_xlabel('$LD_0$', fontsize=16, color=text_col, labelpad=1)
    axs.set_ylabel('$LD_1$', fontsize=16, color=text_col, labelpad=2)

fig.savefig('out.png', dpi=100)
